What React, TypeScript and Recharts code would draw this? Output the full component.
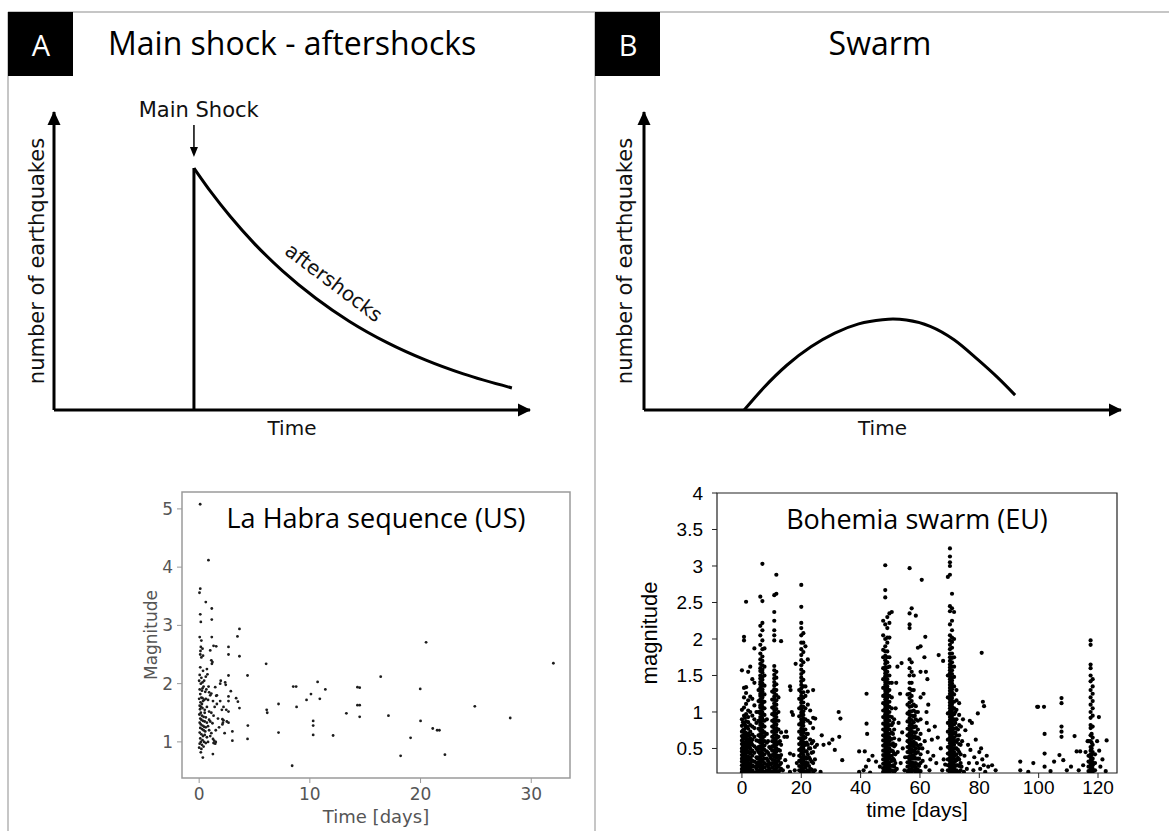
import React from "react";
import {
  ComposedChart,
  ScatterChart,
  Scatter,
  Line,
  XAxis,
  YAxis,
  ReferenceLine,
  ReferenceDot,
  ReferenceArea,
} from "recharts";

// schematic curves, arbitrary units (0-100 on both axes)
const mainShockTime = 29.4;
const mainShockPeak = 81.2;
const aftershockTimes = [29.4, 33, 37, 42, 48, 55, 62, 70, 78, 86, 96.2];
const aftershockCounts = [81.2, 73.1, 65.0, 56.0, 46.7, 37.5, 29.8, 22.6, 16.8, 12.1, 7.4];
const swarmTimes = [21, 25, 30, 35, 40, 45, 50, 52.2, 55, 60, 65, 70, 74, 77.8];
const swarmCounts = [0, 7.3, 15.1, 21.2, 25.8, 28.9, 30.3, 30.5, 30.2, 28.1, 23.6, 16.9, 11.1, 5.0];

// La Habra sequence: [day, magnitude]
const laHabraEvents: [number, number][] = [
  [0.09, 5.08], [0.84, 4.12], [0.1, 3.63], [0.03, 3.56], [0.6, 3.4], [1.14, 3.29], [0.1, 3.19], [0.15, 3.06],
  [1.14, 3.1], [0.05, 2.8], [0.2, 2.74], [1.14, 2.8], [0.15, 2.63], [0.3, 2.6], [0.12, 2.56], [1.0, 2.57],
  [1.3, 2.65], [0.1, 2.5], [0.35, 2.48], [0.2, 2.45], [1.1, 2.4], [1.15, 2.34], [1.2, 2.37], [0.7, 2.25],
  [0.35, 2.22], [0.1, 2.28], [0.05, 2.15], [0.2, 2.1], [0.6, 2.12], [0.75, 2.16], [0.0, 2.05], [0.15, 2.0],
  [0.3, 2.02], [0.4, 1.95], [0.05, 1.9], [0.25, 1.88], [0.55, 1.86], [0.9, 1.85], [1.0, 1.8], [1.1, 1.83],
  [0.1, 1.82], [0.2, 1.76], [0.3, 1.75], [0.0, 1.74], [0.45, 1.72], [0.6, 1.74], [0.8, 1.72], [0.12, 1.68],
  [0.25, 1.65], [0.05, 1.62], [0.18, 1.6], [0.3, 1.58], [0.08, 1.56], [0.5, 1.55], [0.7, 1.6], [0.9, 1.52],
  [1.1, 1.5], [0.15, 1.5], [0.02, 1.47], [0.25, 1.45], [0.4, 1.43], [0.6, 1.42], [0.1, 1.4], [0.2, 1.38],
  [0.35, 1.36], [0.5, 1.35], [0.7, 1.33], [0.9, 1.38], [1.0, 1.35], [1.2, 1.32], [0.05, 1.33], [0.15, 1.3],
  [0.3, 1.28], [0.45, 1.26], [0.6, 1.25], [0.8, 1.27], [0.1, 1.24], [0.25, 1.22], [0.4, 1.2], [0.55, 1.18],
  [0.9, 1.2], [1.1, 1.15], [0.05, 1.16], [0.2, 1.13], [0.35, 1.1], [0.5, 1.12], [0.7, 1.08], [1.0, 1.1],
  [1.25, 1.05], [0.1, 1.06], [0.3, 1.03], [0.15, 1.0], [0.45, 1.0], [0.6, 0.98], [0.05, 0.97], [0.25, 0.95],
  [0.4, 0.92], [0.8, 1.0], [1.3, 0.98], [1.35, 1.02], [1.45, 0.97], [1.5, 1.0], [0.15, 0.82], [0.33, 0.73],
  [1.24, 0.79], [0.0, 0.9], [0.2, 0.88], [0.5, 1.5], [0.35, 1.7], [0.65, 1.9], [0.45, 2.05], [0.85, 1.95],
  [0.3, 1.92], [1.45, 1.94], [1.54, 1.79], [1.6, 1.8], [1.54, 2.64], [1.9, 2.0], [1.9, 1.7], [2.05, 1.55],
  [2.1, 1.39], [2.15, 1.33], [2.35, 2.02], [2.4, 1.98], [2.1, 1.3], [2.2, 1.37], [2.65, 2.63], [2.65, 2.5],
  [2.65, 2.14], [2.65, 1.78], [2.65, 1.7], [2.65, 1.52], [2.65, 1.33], [2.86, 1.87], [3.0, 1.18], [3.0, 1.02],
  [3.34, 1.75], [3.5, 1.69], [3.46, 2.81], [3.64, 2.94], [3.64, 2.47], [3.64, 1.58], [4.37, 2.14], [4.4, 1.28],
  [4.37, 1.05], [1.6, 1.65], [1.7, 1.4], [1.8, 1.25], [2.3, 1.15], [1.5, 1.2], [1.3, 1.45], [1.25, 1.7],
  [1.4, 1.6], [2.5, 1.35], [2.45, 1.55], [1.95, 2.05], [2.2, 1.6],
  [6.05, 2.34], [6.1, 1.55], [6.15, 1.5], [7.17, 1.65], [7.17, 1.16], [8.4, 0.59], [8.5, 1.95], [8.76, 1.95],
  [8.8, 1.6], [9.7, 1.72], [10.1, 1.82], [10.3, 1.36], [10.3, 1.28], [10.3, 1.12], [10.7, 2.03], [10.9, 1.74],
  [11.4, 1.9], [12.1, 1.11], [13.3, 1.49], [14.3, 1.94], [14.5, 1.93], [14.3, 1.63], [14.5, 1.63], [14.5, 1.43],
  [16.4, 2.12], [17.1, 1.45], [18.2, 0.76], [19.1, 1.07], [19.97, 1.91], [20.0, 1.36], [20.5, 2.71], [21.1, 1.23],
  [21.5, 1.2], [21.7, 1.2], [22.2, 0.78], [24.9, 1.61], [28.1, 1.41], [32.0, 2.35],
];

// Bohemia swarm: dense bursts as [day, magnitudes at that day]
const burstDay0: [number, number[]][] = [
  [0.0, [0.18, 0.22, 0.27, 0.32, 0.36, 0.41, 0.46, 0.5, 0.56, 0.61, 0.67, 0.73, 0.81, 0.9, 1.03, 1.57]],
  [0.35, [0.2, 0.26, 0.33, 0.39, 0.45, 0.52, 0.59, 0.65, 0.75, 0.86]],
  [0.7, [0.2, 0.24, 0.29, 0.34, 0.38, 0.43, 0.48, 0.53, 0.58, 0.64, 0.69, 0.76, 0.84, 0.95, 1.06, 1.2, 1.33, 1.98, 2.03]],
  [1.05, [0.19, 0.25, 0.31, 0.37, 0.43, 0.5, 0.57, 0.64, 0.72, 0.82, 0.92]],
  [1.4, [0.17, 0.21, 0.26, 0.31, 0.35, 0.4, 0.44, 0.49, 0.55, 0.6, 0.66, 0.71, 0.79, 0.87, 0.97, 1.11, 1.26, 1.34, 2.51]],
  [1.75, [0.18, 0.24, 0.3, 0.37, 0.45, 0.53, 0.62, 0.7, 0.8]],
  [2.1, [0.19, 0.23, 0.28, 0.34, 0.39, 0.46, 0.51, 0.57, 0.63, 0.7, 0.77, 0.86, 0.93, 1.02, 1.16, 1.55]],
  [2.45, [0.2, 0.27, 0.35, 0.44, 0.53, 0.6, 0.68]],
  [2.8, [0.18, 0.24, 0.3, 0.37, 0.43, 0.5, 0.56, 0.64, 0.73, 0.82, 1.0, 1.21, 1.62]],
  [3.15, [0.17, 0.25, 0.34, 0.45, 0.58]],
  [3.5, [0.2, 0.27, 0.33, 0.4, 0.47, 0.55, 0.62, 0.69, 0.8, 0.95, 1.18, 1.45]],
  [4.2, [0.17, 0.25, 0.32, 0.44, 0.53, 0.66, 0.78, 0.9, 1.09, 1.4, 1.87]],
  [4.9, [0.22, 0.3, 0.38, 0.5, 0.61, 0.85, 1.0]],
  [5.2, [0.19, 0.27, 0.36, 0.48]],
];
const burstDay6: [number, number[]][] = [
  [5.6, [0.19, 0.25, 0.31, 0.38, 0.45, 0.52, 0.6, 0.68, 0.77, 0.88, 1.0, 1.15, 1.3]],
  [6.2, [0.17, 0.21, 0.25, 0.29, 0.34, 0.37, 0.42, 0.45, 0.5, 0.53, 0.58, 0.61, 0.66, 0.69, 0.74, 0.77, 0.82, 0.85, 0.9, 0.93, 0.98, 1.01, 1.06, 1.09, 1.14, 1.17, 1.22, 1.25, 1.3, 1.33, 1.38, 1.41, 1.46, 1.5, 1.56, 1.6, 1.66, 1.72, 1.8, 1.92, 2.05, 2.18, 2.58]],
  [6.9, [0.19, 0.23, 0.27, 0.32, 0.35, 0.4, 0.43, 0.48, 0.51, 0.56, 0.59, 0.64, 0.67, 0.72, 0.75, 0.8, 0.83, 0.88, 0.91, 0.96, 0.99, 1.04, 1.07, 1.12, 1.15, 1.2, 1.23, 1.28, 1.31, 1.36, 1.39, 1.44, 1.48, 1.54, 1.58, 1.64, 1.7, 1.76, 1.86, 1.98, 2.12, 2.22, 2.52, 3.03]],
  [7.6, [0.18, 0.24, 0.3, 0.36, 0.42, 0.48, 0.54, 0.6, 0.67, 0.72, 0.8, 0.88, 0.96, 1.05, 1.14, 1.24, 1.36, 1.5, 1.62, 1.87]],
  [8.4, [0.2, 0.28, 0.36, 0.46, 0.58, 0.7, 0.9]],
  [8.8, [0.18, 0.25, 0.33, 0.44, 0.6]],
  [9.2, [0.22, 0.3, 0.41, 0.52]],
  [9.7, [0.19, 0.28, 0.37, 0.5]],
];
const burstDay11: [number, number[]][] = [
  [10.2, [0.18, 0.24, 0.3, 0.35, 0.41, 0.47, 0.53, 0.6, 0.66, 0.73, 0.8, 0.88, 0.97, 1.06, 1.17, 1.28]],
  [10.9, [0.17, 0.21, 0.26, 0.3, 0.34, 0.39, 0.43, 0.47, 0.52, 0.56, 0.6, 0.64, 0.69, 0.73, 0.77, 0.82, 0.86, 0.9, 0.95, 0.99, 1.03, 1.08, 1.12, 1.17, 1.21, 1.26, 1.31, 1.36, 1.41, 1.46, 1.51, 1.57, 1.63, 1.98, 2.05, 2.12, 2.25, 2.37, 2.6]],
  [11.6, [0.19, 0.23, 0.28, 0.32, 0.37, 0.41, 0.46, 0.5, 0.55, 0.59, 0.64, 0.68, 0.73, 0.78, 0.83, 0.88, 0.93, 0.98, 1.04, 1.1, 1.16, 1.23, 1.3, 1.38, 1.47, 1.55, 2.62, 2.88]],
  [12.3, [0.18, 0.25, 0.33, 0.4, 0.48, 0.57, 0.66, 0.76, 0.88, 1.0, 1.2]],
  [12.8, [0.2, 0.28, 0.37, 0.47, 0.6]],
  [13.2, [0.22, 0.3, 0.41, 0.55, 0.72, 1.97]],
];
const burstDay20: [number, number[]][] = [
  [19.3, [0.2, 0.26, 0.33, 0.4, 0.48, 0.56, 0.64, 0.73, 0.83, 0.94, 1.05, 1.18, 1.3]],
  [20.0, [0.17, 0.21, 0.25, 0.3, 0.34, 0.38, 0.43, 0.47, 0.51, 0.56, 0.6, 0.64, 0.69, 0.73, 0.77, 0.82, 0.86, 0.9, 0.95, 0.99, 1.04, 1.08, 1.13, 1.17, 1.22, 1.27, 1.32, 1.37, 1.42, 1.47, 1.52, 1.58, 1.64, 1.71, 1.78, 1.86, 1.95, 2.05, 2.15, 2.22, 2.44, 2.74]],
  [20.7, [0.19, 0.23, 0.28, 0.32, 0.36, 0.41, 0.45, 0.5, 0.54, 0.58, 0.63, 0.67, 0.72, 0.76, 0.81, 0.86, 0.91, 0.96, 1.01, 1.07, 1.13, 1.2, 1.27, 1.35, 1.44, 1.55, 1.68, 1.82, 1.95, 2.08]],
  [21.4, [0.18, 0.24, 0.31, 0.38, 0.46, 0.55, 0.65, 0.76, 0.9, 1.05, 1.22, 1.35, 1.9]],
  [21.8, [0.19, 0.27, 0.36, 0.46, 0.58, 0.7]],
  [22.2, [0.2, 0.3, 0.42, 0.55, 0.7, 0.88, 1.1, 1.28, 1.72]],
  [22.6, [0.18, 0.26, 0.38, 0.5]],
  [23.0, [0.22, 0.35, 0.5, 0.62, 0.85, 1.02]],
  [23.5, [0.21, 0.32, 0.44, 0.57]],
  [24.0, [0.18, 0.3, 0.45, 0.6, 0.78, 0.92, 1.3]],
  [24.6, [0.2, 0.35, 0.52]],
];
const burstDay49: [number, number[]][] = [
  [47.6, [0.18, 0.23, 0.29, 0.35, 0.41, 0.47, 0.54, 0.61, 0.68, 0.76, 0.84, 0.93, 1.02, 1.12, 1.22, 1.33, 1.45, 1.6, 1.75, 1.85, 2.05, 2.25]],
  [48.3, [0.17, 0.21, 0.25, 0.29, 0.33, 0.37, 0.41, 0.45, 0.49, 0.53, 0.57, 0.61, 0.65, 0.69, 0.73, 0.77, 0.81, 0.85, 0.89, 0.93, 0.97, 1.01, 1.05, 1.09, 1.13, 1.17, 1.21, 1.25, 1.29, 1.33, 1.37, 1.41, 1.45, 1.49, 1.53, 1.57, 1.61, 1.66, 1.71, 1.77, 1.83, 1.9, 2.0, 2.2, 2.57, 2.67, 3.01]],
  [49.0, [0.19, 0.23, 0.27, 0.31, 0.35, 0.39, 0.43, 0.47, 0.51, 0.55, 0.59, 0.63, 0.67, 0.71, 0.75, 0.79, 0.83, 0.87, 0.91, 0.95, 0.99, 1.03, 1.07, 1.11, 1.15, 1.19, 1.23, 1.27, 1.31, 1.35, 1.4, 1.45, 1.5, 1.55, 1.61, 1.68, 1.75, 1.83, 1.95, 2.02, 2.15, 2.3]],
  [49.7, [0.18, 0.22, 0.27, 0.31, 0.36, 0.4, 0.45, 0.5, 0.55, 0.6, 0.65, 0.7, 0.76, 0.82, 0.88, 0.94, 1.0, 1.07, 1.14, 1.22, 1.3, 1.4, 1.5, 1.62, 1.75, 2.02, 2.22, 2.35]],
  [50.5, [0.2, 0.26, 0.33, 0.4, 0.47, 0.55, 0.63, 0.72, 0.82, 0.93, 1.05, 1.2, 1.4, 2.37]],
  [50.9, [0.19, 0.27, 0.36, 0.46, 0.57, 0.7, 0.85]],
  [51.3, [0.18, 0.25, 0.34, 0.43, 0.53, 0.64, 0.76, 0.9]],
  [51.7, [0.2, 0.3, 0.42, 0.55]],
];
const burstDay57: [number, number[]][] = [
  [55.8, [0.19, 0.25, 0.31, 0.38, 0.45, 0.52, 0.6, 0.68, 0.77, 0.87, 0.98, 1.1, 1.24]],
  [56.5, [0.17, 0.21, 0.26, 0.3, 0.35, 0.39, 0.44, 0.48, 0.53, 0.57, 0.62, 0.66, 0.71, 0.76, 0.81, 0.86, 0.91, 0.96, 1.01, 1.07, 1.13, 1.19, 1.25, 1.32, 1.4, 1.5, 1.6, 1.72, 2.15, 2.2, 2.35, 2.97]],
  [57.2, [0.18, 0.22, 0.27, 0.31, 0.36, 0.4, 0.45, 0.49, 0.54, 0.58, 0.63, 0.68, 0.73, 0.78, 0.83, 0.89, 0.95, 1.01, 1.08, 1.15, 1.22, 1.3, 1.4, 1.55, 1.68, 2.42]],
  [57.9, [0.2, 0.25, 0.3, 0.36, 0.41, 0.47, 0.53, 0.59, 0.65, 0.72, 0.79, 0.86, 0.94, 1.02, 1.1, 1.3, 1.5]],
  [58.25, [0.2, 0.28, 0.37, 0.46, 0.56, 0.67, 0.8, 0.95]],
  [58.6, [0.18, 0.24, 0.3, 0.36, 0.43, 0.5, 0.57, 0.64, 0.72, 0.8, 0.9, 1.0, 1.08, 2.32]],
  [59.3, [0.21, 0.28, 0.36, 0.45, 0.54, 0.65, 0.76, 0.88, 1.0, 1.88]],
  [59.7, [0.18, 0.26, 0.36, 0.5, 0.63]],
  [60.2, [0.19, 0.3, 0.42, 0.55, 0.7, 0.9, 1.2, 1.55, 1.9]],
];
const burstDay70: [number, number[]][] = [
  [69.4, [0.2, 0.27, 0.35, 0.43, 0.52, 0.62, 0.73, 0.85, 0.98, 1.2, 1.5, 2.85]],
  [70.1, [0.17, 0.21, 0.25, 0.29, 0.33, 0.37, 0.41, 0.45, 0.49, 0.53, 0.57, 0.61, 0.65, 0.69, 0.73, 0.77, 0.81, 0.85, 0.89, 0.93, 0.97, 1.01, 1.05, 1.09, 1.13, 1.17, 1.21, 1.25, 1.29, 1.33, 1.37, 1.41, 1.45, 1.49, 1.53, 1.57, 1.61, 1.65, 1.7, 1.75, 1.8, 1.86, 1.92, 1.98, 2.05, 2.2, 2.38, 2.45, 2.88, 3.0, 3.05, 3.13, 3.24]],
  [70.8, [0.19, 0.23, 0.27, 0.31, 0.35, 0.39, 0.43, 0.47, 0.51, 0.55, 0.59, 0.63, 0.67, 0.71, 0.75, 0.79, 0.83, 0.87, 0.91, 0.95, 0.99, 1.03, 1.07, 1.11, 1.15, 1.19, 1.23, 1.27, 1.31, 1.35, 1.39, 1.43, 1.47, 1.52, 1.57, 1.62, 1.68, 1.74, 1.8, 1.88, 1.96, 2.02, 2.12, 2.25, 2.42, 2.62]],
  [71.5, [0.18, 0.22, 0.27, 0.31, 0.36, 0.4, 0.45, 0.5, 0.55, 0.6, 0.65, 0.71, 0.77, 0.83, 0.9, 0.97, 1.05, 1.14, 1.24, 1.35, 1.48, 1.62, 1.75, 2.0, 2.37]],
  [71.9, [0.19, 0.26, 0.33, 0.41, 0.5, 0.6, 0.72, 0.85, 1.0]],
  [72.3, [0.2, 0.27, 0.34, 0.42, 0.5, 0.59, 0.68, 0.78, 0.9, 1.03, 1.16, 1.3]],
  [72.8, [0.18, 0.27, 0.37, 0.48, 0.62, 0.76]],
  [73.2, [0.18, 0.26, 0.35, 0.45, 0.56, 0.68, 0.82, 0.96, 1.12]],
  [73.7, [0.2, 0.3, 0.42, 0.55]],
];
const burstDay118: [number, number[]][] = [
  [116.8, [0.19, 0.25, 0.32, 0.4, 0.6]],
  [117.5, [0.17, 0.21, 0.25, 0.29, 0.33, 0.38, 0.42, 0.47, 0.52, 0.6, 0.68, 0.78, 0.82, 0.92, 1.0, 1.1, 1.2, 1.3, 1.42, 1.5, 1.6, 1.65, 1.92, 1.98]],
  [117.85, [0.19, 0.24, 0.3, 0.35, 0.41, 0.5, 0.58, 0.7]],
  [118.2, [0.18, 0.22, 0.27, 0.31, 0.36, 0.45, 0.55, 0.65, 0.8, 0.95, 1.05, 1.15, 1.25, 1.35, 1.45]],
  [119.0, [0.2, 0.3, 0.42]],
];
// isolated events between bursts: [day, magnitude]
const swarmIsolated: [number, number][] = [
  [14.3, 0.66], [14.6, 0.34], [14.9, 0.73], [15.2, 0.66], [16.2, 1.35], [16.4, 1.3], [16.8, 1.0], [17.2, 0.96],
  [18.1, 1.66], [16.2, 0.43], [17.4, 0.41], [17.8, 0.2], [16.2, 0.18], [15.5, 0.25], [18.5, 0.3], [13.8, 0.2],
  [25.3, 0.55], [26.9, 0.68], [26.5, 0.18], [27.5, 0.55], [29.4, 0.57], [31.3, 0.48], [32.6, 1.0], [33.2, 0.91],
  [33.8, 0.34], [32.8, 0.66], [30.5, 0.62], [24.7, 0.91],
  [39.5, 0.46], [39.5, 0.18], [41.0, 0.2], [41.4, 0.46], [42.0, 1.25], [42.0, 0.84], [42.2, 0.7], [42.7, 0.34],
  [45.2, 0.32], [41.8, 0.25], [43.2, 0.17], [46.5, 0.25], [44.0, 0.4],
  [52.2, 0.22], [52.5, 0.45], [53.0, 0.62], [53.5, 0.3], [54.2, 0.5], [54.8, 0.2], [52.8, 0.85], [53.3, 1.25],
  [52.0, 1.4], [54.0, 0.72], [55.0, 0.38], [51.8, 1.05], [53.8, 1.67], [52.4, 1.62],
  [60.6, 2.81], [61.8, 2.03], [61.5, 1.75], [62.0, 1.55], [62.5, 1.45], [61.2, 1.25], [62.8, 1.1], [62.2, 1.0],
  [63.0, 0.75], [61.6, 0.6], [62.6, 0.45], [63.5, 0.35], [61.9, 0.25], [63.2, 0.2], [64.0, 0.62], [64.5, 0.4],
  [65.5, 0.3], [66.3, 1.78], [67.0, 0.5], [66.0, 0.65], [67.5, 0.2], [68.0, 0.35], [65.0, 0.8], [68.5, 0.28],
  [67.8, 1.7], [62.3, 0.85], [60.8, 0.5], [60.9, 0.33],
  [74.0, 0.25], [74.2, 0.6], [74.5, 0.9], [75.0, 0.4], [75.3, 0.75], [75.8, 0.22], [76.2, 0.55], [76.5, 0.3],
  [77.0, 0.48], [77.5, 0.85], [78.0, 0.2], [78.3, 0.38], [78.8, 0.62], [79.2, 0.3], [79.5, 0.98], [80.0, 0.45],
  [80.3, 0.22], [80.8, 1.81], [80.6, 0.5], [81.2, 1.14], [81.6, 1.08], [81.0, 0.35], [81.5, 0.27], [82.0, 0.18],
  [82.5, 0.4], [83.0, 0.25], [84.3, 0.27], [85.5, 0.2], [76.8, 0.88], [73.8, 0.8], [74.8, 0.18],
  [93.8, 0.32], [93.8, 0.2], [98.2, 0.3], [99.5, 1.07], [99.8, 1.07], [101.8, 1.07], [102.0, 0.7], [102.0, 0.43],
  [102.0, 0.25], [105.2, 0.32], [107.7, 1.19], [107.7, 1.12], [107.7, 0.8], [107.7, 0.73], [107.7, 0.66],
  [107.0, 0.41], [108.3, 0.34], [110.9, 0.25], [112.1, 0.67], [112.8, 0.46], [114.0, 0.46], [115.0, 0.27],
  [96.5, 0.18], [109.5, 0.2], [113.5, 0.2], [115.8, 0.45], [116.5, 0.6], [104.0, 0.19],
  [120.3, 0.93], [120.4, 0.47], [120.8, 0.25], [122.9, 0.61], [122.6, 0.19], [119.7, 0.6], [121.5, 0.35],
];

const laHabraTicksX = [0, 10, 20, 30];
const laHabraTicksY = [1, 2, 3, 4, 5];
const bohemiaTicksX = [0, 20, 40, 60, 80, 100, 120];
const bohemiaTicksY = [0.5, 1, 1.5, 2, 2.5, 3, 3.5, 4];

const aftershockData = aftershockTimes.map((t, i) => ({ t, n: aftershockCounts[i] }));
const swarmData = swarmTimes.map((t, i) => ({ t, n: swarmCounts[i] }));
const laHabraData = laHabraEvents.map(([day, mag]) => ({ day, mag }));
const bohemiaData = [
  ...[burstDay0, burstDay6, burstDay11, burstDay20, burstDay49, burstDay57, burstDay70, burstDay118]
    .flat()
    .flatMap(([day, mags]) => mags.map((mag) => ({ day, mag }))),
  ...swarmIsolated.map(([day, mag]) => ({ day, mag })),
];

const SKETCH_FONT = "DejaVu Sans";
const TITLE_FONT = "Open Sans";
const HELV = "Liberation Sans";

const arrowRight = (p: any) => (
  <polygon points={`${p.cx + 1},${p.cy} ${p.cx - 12},${p.cy - 6.5} ${p.cx - 12},${p.cy + 6.5}`} fill="#000" />
);
const arrowUp = (p: any) => (
  <polygon points={`${p.cx},${p.cy - 1} ${p.cx - 6.5},${p.cy + 13} ${p.cx + 6.5},${p.cy + 13}`} fill="#000" />
);
const arrowDown = (p: any) => (
  <polygon points={`${p.cx},${p.cy} ${p.cx - 4},${p.cy - 10} ${p.cx + 4},${p.cy - 10}`} fill="#000" />
);
const dot = (r: number, fill: string) => (p: any) => <circle cx={p.cx} cy={p.cy} r={r} fill={fill} />;

function Sketch({ left, width, yWidth, data, children }: any) {
  return (
    <div style={{ position: "absolute", left, top: 98 }}>
      <ComposedChart width={width} height={342} data={data} margin={{ top: 14, right: 20, bottom: 0, left: 0 }}>
        <XAxis
          type="number"
          dataKey="t"
          domain={[0, 100]}
          allowDataOverflow
          tick={false}
          tickLine={false}
          height={30}
          axisLine={{ stroke: "#000", strokeWidth: 3 }}
          label={{ value: "Time", position: "insideBottom", offset: 5, fill: "#111", fontSize: 20, fontFamily: SKETCH_FONT }}
        />
        <YAxis
          type="number"
          domain={[0, 100]}
          allowDataOverflow
          tick={false}
          tickLine={false}
          width={yWidth}
          axisLine={{ stroke: "#000", strokeWidth: 3 }}
          label={{ value: "number of earthquakes", angle: -90, position: "center", fill: "#111", fontSize: 21, fontFamily: SKETCH_FONT }}
        />
        <ReferenceDot x={100} y={0} r={0} shape={arrowRight} ifOverflow="visible" />
        <ReferenceDot x={0} y={100} r={0} shape={arrowUp} ifOverflow="visible" />
        {children}
        <Line type="monotone" dataKey="n" stroke="#000" strokeWidth={3} dot={false} isAnimationActive={false} />
      </ComposedChart>
    </div>
  );
}

export default function App() {
  return (
    <div style={{ position: "absolute", left: 0, top: 0, width: 1169, height: 831, background: "#fff", fontFamily: SKETCH_FONT }}>
      <svg width={1169} height={831} style={{ position: "absolute", left: 0, top: 0 }}>
        <line x1={8} y1={12} x2={1169} y2={12} stroke="#b3b3b3" strokeWidth={1.5} />
        <line x1={8} y1={12} x2={8} y2={831} stroke="#b3b3b3" strokeWidth={1.5} />
        <line x1={595} y1={12} x2={595} y2={831} stroke="#b3b3b3" strokeWidth={1.5} />
        <rect x={8} y={12} width={65} height={64} fill="#000" />
        <rect x={595} y={12} width={65} height={64} fill="#000" />
        <text x={41} y={56} fill="#fff" fontFamily={TITLE_FONT} fontSize={29} textAnchor="middle">A</text>
        <text x={628} y={56} fill="#fff" fontFamily={TITLE_FONT} fontSize={29} textAnchor="middle">B</text>
        <text x={108} y={55} fill="#000" fontFamily={TITLE_FONT} fontSize={32}>Main shock - aftershocks</text>
        <text x={880} y={55} fill="#000" fontFamily={TITLE_FONT} fontSize={32} textAnchor="middle">Swarm</text>
      </svg>

      <Sketch left={20} width={530} yWidth={34} data={aftershockData}>
        <ReferenceLine
          segment={[{ x: mainShockTime, y: 0 }, { x: mainShockTime, y: mainShockPeak }]}
          stroke="#000"
          strokeWidth={3}
        />
        <ReferenceLine
          segment={[{ x: mainShockTime, y: 95.6 }, { x: mainShockTime, y: 87.5 }]}
          stroke="#000"
          strokeWidth={1.5}
        />
        <ReferenceDot x={mainShockTime} y={84.9} r={0} shape={arrowDown} ifOverflow="visible" />
        <ReferenceDot
          x={30.4}
          y={100.7}
          r={0}
          ifOverflow="visible"
          label={{ value: "Main Shock", position: "center", fill: "#111", fontSize: 21, fontFamily: SKETCH_FONT }}
        />
        <ReferenceDot
          x={58.8}
          y={42.8}
          r={0}
          ifOverflow="visible"
          label={{ value: "aftershocks", position: "center", angle: 37, fill: "#111", fontSize: 20, fontFamily: SKETCH_FONT }}
        />
      </Sketch>

      <Sketch left={606} width={535} yWidth={38} data={swarmData} />

      <div style={{ position: "absolute", left: 120, top: 480 }}>
        <ScatterChart width={460} height={348} margin={{ top: 12, right: 10, bottom: 0, left: 0 }}>
          <XAxis
            type="number"
            dataKey="day"
            domain={[-1.55, 33.5]}
            ticks={laHabraTicksX}
            allowDataOverflow
            axisLine={false}
            tickSize={5}
            tickMargin={5}
            tickLine={{ stroke: "#999" }}
            tick={{ fill: "#555", fontSize: 17, fontFamily: "DejaVu Sans" }}
            height={50}
            label={{ value: "Time [days]", position: "insideBottom", offset: 5, fill: "#555", fontSize: 18, fontFamily: "DejaVu Sans" }}
          />
          <YAxis
            type="number"
            dataKey="mag"
            domain={[0.38, 5.29]}
            ticks={laHabraTicksY}
            allowDataOverflow
            axisLine={false}
            tickSize={5}
            tickMargin={4}
            tickLine={{ stroke: "#999" }}
            tick={{ fill: "#555", fontSize: 17, fontFamily: "DejaVu Sans" }}
            width={62}
            label={{ value: "Magnitude", angle: -90, position: "center", fill: "#555", fontSize: 17, fontFamily: "DejaVu Sans" }}
          />
          <ReferenceArea
            x1={-1.55}
            x2={33.5}
            y1={0.38}
            y2={5.29}
            fill="none"
            fillOpacity={0}
            stroke="#9a9a9a"
            strokeWidth={1.5}
            ifOverflow="visible"
            label={{ value: "La Habra sequence (US)", position: "insideTop", offset: 17, fill: "#000", fontSize: 27, fontFamily: TITLE_FONT }}
          />
          <Scatter data={laHabraData} shape={dot(1.4, "#1c1c1c")} isAnimationActive={false} />
        </ScatterChart>
      </div>

      <div style={{ position: "absolute", left: 581, top: 470 }}>
        <ScatterChart width={546} height={358} margin={{ top: 23, right: 10, bottom: 0, left: 0 }}>
          <XAxis
            type="number"
            dataKey="day"
            domain={[-8.4, 126.4]}
            ticks={bohemiaTicksX}
            allowDataOverflow
            axisLine={false}
            tickSize={5}
            tickMargin={3}
            tickLine={{ stroke: "#222" }}
            tick={{ fill: "#000", fontSize: 19, fontFamily: HELV }}
            height={55}
            label={{ value: "time [days]", position: "insideBottom", offset: 11, fill: "#000", fontSize: 21, fontFamily: HELV }}
          />
          <XAxis
            xAxisId="top"
            orientation="top"
            type="number"
            domain={[-8.4, 126.4]}
            ticks={bohemiaTicksX}
            allowDataOverflow
            axisLine={false}
            tick={false}
            tickSize={5}
            tickLine={{ stroke: "#222" }}
            height={0}
          />
          <YAxis
            type="number"
            dataKey="mag"
            domain={[0.164, 4]}
            ticks={bohemiaTicksY}
            allowDataOverflow
            axisLine={false}
            tickSize={5}
            tickMargin={9}
            tickLine={{ stroke: "#222" }}
            tick={{ fill: "#000", fontSize: 19, fontFamily: HELV }}
            width={136}
            label={{ value: "magnitude", angle: -90, position: "center", fill: "#000", fontSize: 22, fontFamily: HELV }}
          />
          <YAxis
            yAxisId="right"
            orientation="right"
            type="number"
            domain={[0.164, 4]}
            ticks={bohemiaTicksY}
            allowDataOverflow
            axisLine={false}
            tick={false}
            tickSize={5}
            tickLine={{ stroke: "#222" }}
            width={0}
          />
          <ReferenceArea
            x1={-8.4}
            x2={126.4}
            y1={0.164}
            y2={4}
            fill="none"
            fillOpacity={0}
            stroke="#222"
            strokeWidth={1.2}
            ifOverflow="visible"
            label={{ value: "Bohemia swarm (EU)", position: "insideTop", offset: 17, fill: "#000", fontSize: 27, fontFamily: TITLE_FONT }}
          />
          <Scatter data={bohemiaData} shape={dot(2.1, "#000")} isAnimationActive={false} />
        </ScatterChart>
      </div>
    </div>
  );
}
